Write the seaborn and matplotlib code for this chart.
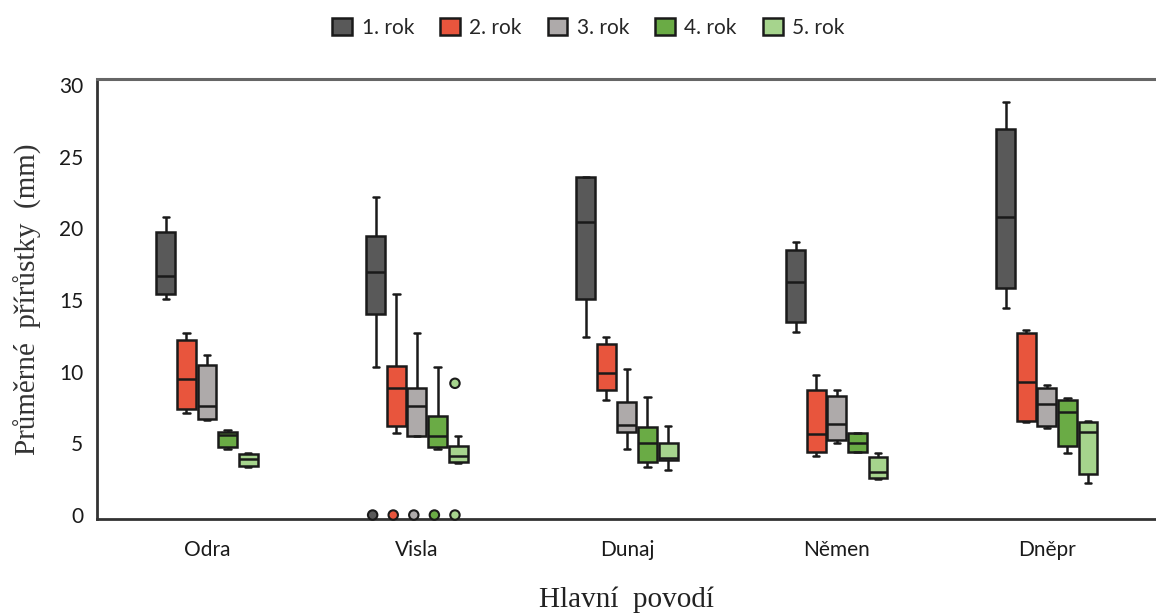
import numpy as np
import pandas as pd
import matplotlib
matplotlib.use("Agg")
import matplotlib.pyplot as plt
import seaborn as sns
from matplotlib.patches import PathPatch

# River basins and growth years
categories = ["Odra", "Visla", "Dunaj", "Němen", "Dněpr"]
years = ["1. rok", "2. rok", "3. rok", "4. rok", "5. rok"]

# Box statistics (mm): rows = years, columns = basins
whisker_low = [
    [15.05, 10.30, 12.40, 12.79, 14.47],
    [7.10, 5.70, 8.03, 4.14, 6.50],
    [6.63, 5.50, 4.58, 5.00, 6.09],
    [4.60, 4.60, 3.37, 4.38, 4.30],
    [3.33, 3.60, 3.14, 2.49, 2.21],
]
quartile_1 = [
    [15.42, 14.03, 15.05, 13.49, 15.82],
    [7.37, 6.23, 8.72, 4.42, 6.56],
    [6.67, 5.53, 5.81, 5.23, 6.21],
    [4.72, 4.72, 3.72, 4.42, 4.84],
    [3.44, 3.72, 3.84, 2.56, 2.86],
]
medians = [
    [16.70, 16.98, 20.47, 16.28, 20.77],
    [9.47, 8.88, 9.89, 5.65, 9.30],
    [7.63, 7.63, 6.28, 6.35, 7.72],
    [5.58, 5.53, 5.05, 5.00, 7.17],
    [3.91, 4.14, 3.95, 2.98, 5.81],
]
quartile_3 = [
    [19.77, 19.49, 23.56, 18.49, 26.91],
    [12.21, 10.42, 11.93, 8.72, 12.68],
    [10.44, 8.88, 7.91, 8.33, 8.88],
    [5.81, 6.93, 6.16, 5.70, 8.03],
    [4.23, 4.84, 5.00, 4.02, 6.51],
]
whisker_high = [
    [20.77, 22.17, 23.60, 19.07, 28.84],
    [12.68, 15.42, 12.44, 9.77, 12.91],
    [11.14, 12.68, 10.16, 8.72, 9.07],
    [5.93, 10.30, 8.21, 5.75, 8.14],
    [4.35, 5.53, 6.21, 4.30, 6.58],
]

# Outlying values: (basin, year, value)
outlier_basin = ["Visla", "Visla", "Visla", "Visla", "Visla", "Visla"]
outlier_year = ["1. rok", "2. rok", "3. rok", "4. rok", "5. rok", "5. rok"]
outlier_value = [0.0, 0.0, 0.0, 0.0, 0.0, 9.19]

colors = ["#595959", "#E8553D", "#AEAAAA", "#6AAB45", "#A6D48D"]
edge = "#1a1a1a"

# Long-form table: each box is described by its five summary values
rows = []
for yi, yr in enumerate(years):
    for ci, cat in enumerate(categories):
        for stat in (whisker_low, quartile_1, medians, quartile_3, whisker_high):
            rows.append({"povodi": cat, "rok": yr, "prirustek": stat[yi][ci]})
df = pd.DataFrame(rows)

sns.set_theme(style="white")
plt.rcParams["font.family"] = ["Lato", "DejaVu Sans"]

fig = plt.figure(figsize=(11.56, 6.13), dpi=100)
ax = fig.add_axes([0.0839, 0.1533, 0.9161, 0.7178])

sns.boxplot(
    data=df, x="povodi", y="prirustek", hue="rok",
    order=categories, hue_order=years, palette=colors, saturation=1,
    width=0.49, gap=0.08, whis=(0, 100), showfliers=False,
    linecolor=edge, linewidth=1.8, capwidths=0.03, ax=ax,
)

# Box centres, ordered by basin then year
boxes = [p for p in ax.patches if isinstance(p, PathPatch)]
centres = sorted(np.mean(p.get_path().vertices[:, 0]) for p in boxes)
centres = np.array(centres).reshape(len(categories), len(years))

fx = [centres[categories.index(c), years.index(y)] for c, y in zip(outlier_basin, outlier_year)]
fc = [colors[years.index(y)] for y in outlier_year]
ax.scatter(fx, outlier_value, s=46, c=fc, edgecolors=edge, linewidths=1.5, zorder=4, clip_on=False)

ax.set_xlim(-0.524, 4.52)
ax.set_ylim(-0.28, 30.42)
ax.set_yticks([0, 5, 10, 15, 20, 25, 30])
ax.tick_params(axis="both", length=0, labelsize=15, colors="#1a1a1a")
ax.tick_params(axis="y", pad=10)
ax.tick_params(axis="x", pad=15)

for side in ("left", "bottom"):
    ax.spines[side].set_color("#333333")
    ax.spines[side].set_linewidth(2.0)
ax.spines["top"].set_color("#666666")
ax.spines["top"].set_linewidth(2.2)
ax.spines["right"].set_visible(False)

serif = ["Liberation Serif", "DejaVu Serif"]
ax.set_ylabel("Průměrné  přírůstky  (mm)", family=serif, fontsize=21, color="#333333", labelpad=12)
ax.set_xlabel("Hlavní  povodí", family=serif, fontsize=21, color="#222222", labelpad=19)

handles, labels = ax.get_legend_handles_labels()
ax.legend_.remove()
fig.legend(
    handles, labels, loc="center", bbox_to_anchor=(0.509, 0.955), ncol=5,
    frameon=False, fontsize=15, handlelength=0.95, handleheight=0.95,
    handletextpad=0.45, columnspacing=1.25,
)

fig.savefig("out.png", dpi=100)
